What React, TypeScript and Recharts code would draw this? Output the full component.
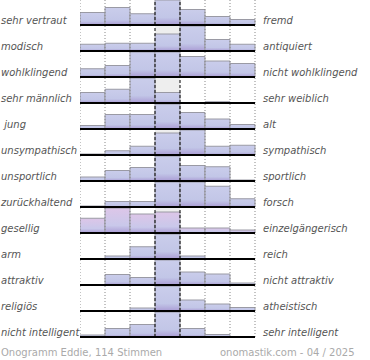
import React from 'react';
import { BarChart, Bar, XAxis, YAxis, ReferenceLine, ReferenceArea } from 'recharts';

// scale columns, left pole -> right pole
const columns = ['1', '2', '3', '4', '5', '6', '7'];

const leftLabels = [
  'sehr vertraut', 'modisch', 'wohlklingend', 'sehr männlich', ' jung', 'unsympathisch',
  'unsportlich', 'zurückhaltend', 'gesellig', 'arm', 'attraktiv', 'religiös', 'nicht intelligent',
];

const rightLabels = [
  'fremd', 'antiquiert', 'nicht wohlklingend', 'sehr weiblich', 'alt', 'sympathisch',
  'sportlich', 'forsch', 'einzelgängerisch', 'reich', 'nicht attraktiv', 'atheistisch', 'sehr intelligent',
];

// relative bar heights per row (% of the row's largest answer)
const rowValues = [
  [50, 70, 45, 100, 62, 34, 22],
  [27, 31, 31, 68, 100, 46, 27],
  [33, 46, 100, 100, 82, 64, 54],
  [42, 55, 100, 42, 0, 5, 0],
  [14, 58, 58, 100, 66, 40, 18],
  [4, 17, 35, 88, 100, 35, 39],
  [16, 42, 54, 100, 62, 57, 4],
  [4, 22, 22, 100, 100, 83, 33],
  [59, 100, 76, 84, 20, 20, 12],
  [2, 12, 49, 100, 12, 0, 0],
  [2, 42, 30, 100, 52, 44, 8],
  [0, 0, 12, 100, 44, 28, 14],
  [8, 34, 50, 100, 34, 10, 0],
];

const rowTint = ['b', 'b', 'b', 'b', 'b', 'b', 'b', 'b', 'p', 'b', 'b', 'b', 'b'];

const footerLeft = 'Onogramm Eddie, 114 Stimmen';
const footerRight = 'onomastik.com - 04 / 2025';

const ROW_H = 26;
const FIRST_BASE = 25;
const font = '"DejaVu Sans", sans-serif';

const labelStyle: React.CSSProperties = {
  position: 'absolute',
  fontFamily: font,
  fontSize: 10,
  fontStyle: 'italic',
  lineHeight: '12px',
  color: '#555',
  whiteSpace: 'pre',
};

const Row: React.FC<{ i: number }> = ({ i }) => {
  const data = columns.map((c, j) => ({ c, v: rowValues[i][j] }));
  const gid = `grad${i}`;
  const pink = rowTint[i] === 'p';
  return (
    <BarChart
      width={176}
      height={26}
      data={data}
      margin={{ top: 0, right: 1, bottom: 1, left: 0 }}
      barCategoryGap={0}
      style={{ position: 'absolute', left: 80, top: FIRST_BASE + i * ROW_H - 25 }}
    >
      <defs>
        <linearGradient id={gid} x1="0" y1="0" x2="0" y2="1">
          <stop offset="0" stopColor={pink ? '#ddc6e8' : '#cacdeb'} />
          <stop offset="0.7" stopColor={pink ? '#c9c8ea' : '#c2c6e7'} />
          <stop offset="1" stopColor="#aa9cd4" />
        </linearGradient>
      </defs>
      <XAxis dataKey="c" hide />
      <YAxis hide domain={[0, 'dataMax']} />
      <ReferenceArea x1="4" x2="4" fill="#eeeeee" fillOpacity={1} stroke="none" />
      <Bar dataKey="v" fill={`url(#${gid})`} stroke="#9a9aa4" strokeWidth={1} isAnimationActive={false} />
      {['1', '2', '3', '6', '7'].map((c) => (
        <ReferenceLine key={c} x={c} position="start" stroke="#888" strokeDasharray="1 2" />
      ))}
      <ReferenceLine x="7" position="end" stroke="#888" strokeDasharray="1 2" />
      <ReferenceLine x="4" position="start" stroke="#000" strokeDasharray="3 2" />
      <ReferenceLine x="5" position="start" stroke="#000" strokeDasharray="3 2" />
      <ReferenceLine y={0} stroke="#000" strokeWidth={2} />
    </BarChart>
  );
};

export default function App() {
  return (
    <div style={{ position: 'absolute', left: 0, top: 0, width: 370, height: 360, background: '#fff', overflow: 'hidden' }}>
      {leftLabels.map((t, i) => (
        <div key={`l${i}`} style={{ ...labelStyle, left: 1, top: FIRST_BASE + i * ROW_H - 10 }}>{t}</div>
      ))}
      {rightLabels.map((t, i) => (
        <div key={`r${i}`} style={{ ...labelStyle, left: 263, top: FIRST_BASE + i * ROW_H - 10 }}>{t}</div>
      ))}
      {leftLabels.map((_, i) => <Row key={i} i={i} />)}
      <div style={{ ...labelStyle, fontStyle: 'normal', color: '#aaa', left: 1, top: 347 }}>{footerLeft}</div>
      <div style={{ ...labelStyle, fontStyle: 'normal', color: '#aaa', left: 220, top: 347 }}>{footerRight}</div>
    </div>
  );
}
